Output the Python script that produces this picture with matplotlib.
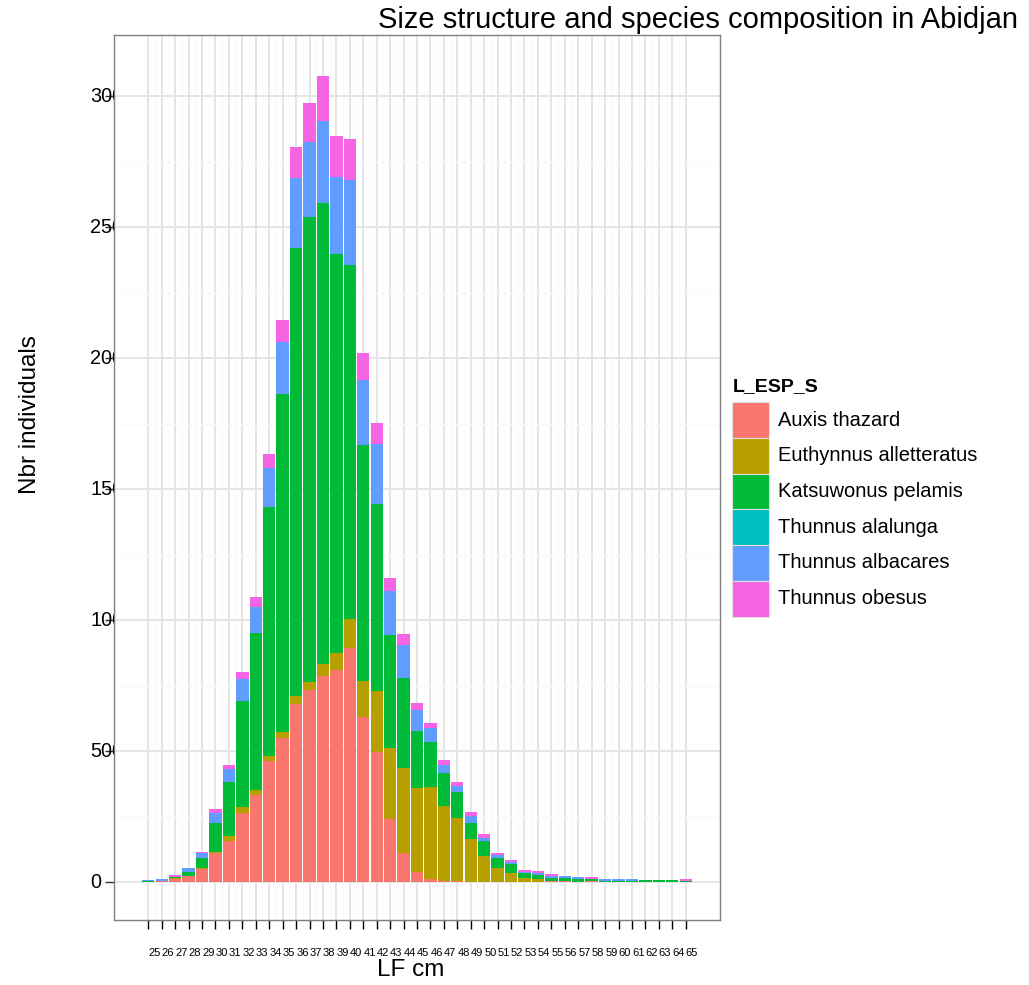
import matplotlib
matplotlib.use('Agg')
import matplotlib.pyplot as plt
from matplotlib.patches import Rectangle
from matplotlib.transforms import Bbox, TransformedBbox, blended_transform_factory
import numpy as np

plt.rcParams['font.family'] = ['Liberation Sans', 'DejaVu Sans']

# length classes (cm)
lf = list(range(25, 66))

species = ['Auxis thazard', 'Euthynnus alletteratus', 'Katsuwonus pelamis',
           'Thunnus alalunga', 'Thunnus albacares', 'Thunnus obesus']
colors = ['#F8766D', '#B79F00', '#00BA38', '#00BFC4', '#619CFF', '#F564E3']

# counts per length class
auxis = [0, 4, 13, 24, 50, 109, 156, 263, 332, 462, 550, 679, 733, 786, 809, 893, 630, 496, 240, 111,
         38, 11, 4, 2, 1, 1, 0, 0, 0, 0, 2, 4, 0, 2, 0, 0, 0, 0, 0, 0, 0]
euthynnus = [0, 0, 1, 0, 5, 5, 19, 23, 19, 19, 23, 31, 31, 46, 65, 111, 137, 233, 271, 324,
             321, 351, 286, 244, 164, 99, 53, 34, 15, 11, 3, 0, 0, 0, 0, 0, 0, 0, 0, 0, 0]
katsuwonus = [2, 0, 5, 14, 37, 111, 206, 405, 599, 950, 1290, 1710, 1775, 1760, 1523, 1351, 901, 714, 431, 344,
              218, 172, 126, 99, 61, 57, 38, 34, 19, 15, 11, 11, 11, 8, 4, 3, 3, 6, 6, 6, 2]
alalunga = [0, 0, 0, 0, 0, 0, 0, 0, 0, 0, 0, 0, 0, 0, 0, 0, 0, 0, 0, 0,
            0, 0, 0, 0, 0, 0, 0, 0, 0, 0, 0, 0, 0, 0, 0, 0, 0, 2, 2, 2, 0]
albacares = [6, 8, 0, 15, 18, 38, 50, 84, 99, 149, 198, 268, 287, 313, 294, 326, 249, 229, 168, 126,
             80, 53, 31, 23, 27, 11, 11, 8, 4, 8, 8, 8, 8, 0, 8, 8, 8, 0, 0, 0, 0]
obesus = [0, 0, 6, 0, 4, 15, 15, 27, 38, 53, 84, 117, 148, 172, 156, 155, 102, 80, 50, 42,
          27, 19, 19, 15, 15, 15, 8, 8, 8, 8, 8, 0, 0, 8, 0, 0, 0, 0, 0, 0, 8]

counts = [auxis, euthynnus, katsuwonus, alalunga, albacares, obesus]
yticks = [0, 500, 1000, 1500, 2000, 2500, 3000]

W, H = 1029, 985
fig = plt.figure(figsize=(W / 100, H / 100), dpi=100)
ax = fig.add_axes([114 / W, 1 - 920 / H, (720 - 114) / W, (920 - 35) / H])

bottom = np.zeros(len(lf))
for vals, col in zip(counts, colors):
    ax.bar(lf, vals, width=0.92, bottom=bottom, color=col, linewidth=0, zorder=2)
    bottom += np.array(vals)

ax.set_xlim(22.45, 67.55)
ax.set_ylim(-145, 3233)

# grid like theme_bw
ax.set_axisbelow(True)
ax.set_xticks(lf)
ax.set_xticks([v + 0.5 for v in lf[:-1]], minor=True)
ax.set_yticks(yticks)
ax.set_yticks([v + 250 for v in yticks[:-1]], minor=True)
ax.grid(which='major', color='#E5E5E5', linewidth=1.4, zorder=0)
ax.grid(which='minor', color='#FAFAFA', linewidth=1.0, zorder=0)
ax.tick_params(which='minor', length=0)
for s in ax.spines.values():
    s.set_color('#7F7F7F')
    s.set_linewidth(1.0)

ax.set_xticklabels([str(v) for v in lf], ha='left', fontsize=8)
ax.tick_params(axis='x', which='major', length=6.5, width=1, color='black', pad=14)
ax.set_yticklabels([])
ax.tick_params(axis='y', which='major', length=6.5, width=1, color='#333333')

# y labels sit left-aligned and get cut by the panel edge
ytrans = blended_transform_factory(fig.transFigure, ax.transData)
clip = TransformedBbox(Bbox([[0, 0], [114 / W, 1]]), fig.transFigure)
for v in yticks:
    t = fig.text(90 / W, v, str(v), transform=ytrans, ha='left', va='center', fontsize=14.3)
    t.set_clip_box(clip)
    t.set_clip_on(True)

fig.text(411 / W, 1 - 970 / H, 'LF cm', ha='center', va='center', fontsize=17.5)
fig.text(30 / W, 1 - 415 / H, 'Nbr individuals', rotation=90, ha='center', va='center', fontsize=17.5)
fig.text(1018 / W, 1 - 20 / H, 'Size structure and species composition in Abidjan',
         ha='right', va='center', fontsize=21)

# legend
fig.text(733 / W, 1 - 387 / H, 'L_ESP_S', fontweight='bold', fontsize=14, ha='left', va='center')
key_h = 35.7
for i, (name, col) in enumerate(zip(species, colors)):
    top = 402.3 + i * key_h
    fig.add_artist(Rectangle((732 / W, 1 - (top + key_h) / H), 37 / W, key_h / H,
                             transform=fig.transFigure, facecolor=col, edgecolor='#E0E0E0', linewidth=0.8))
    fig.text(778 / W, 1 - (top + key_h / 2) / H, name, fontsize=14.5, ha='left', va='center')

fig.savefig('out.png', dpi=100)
